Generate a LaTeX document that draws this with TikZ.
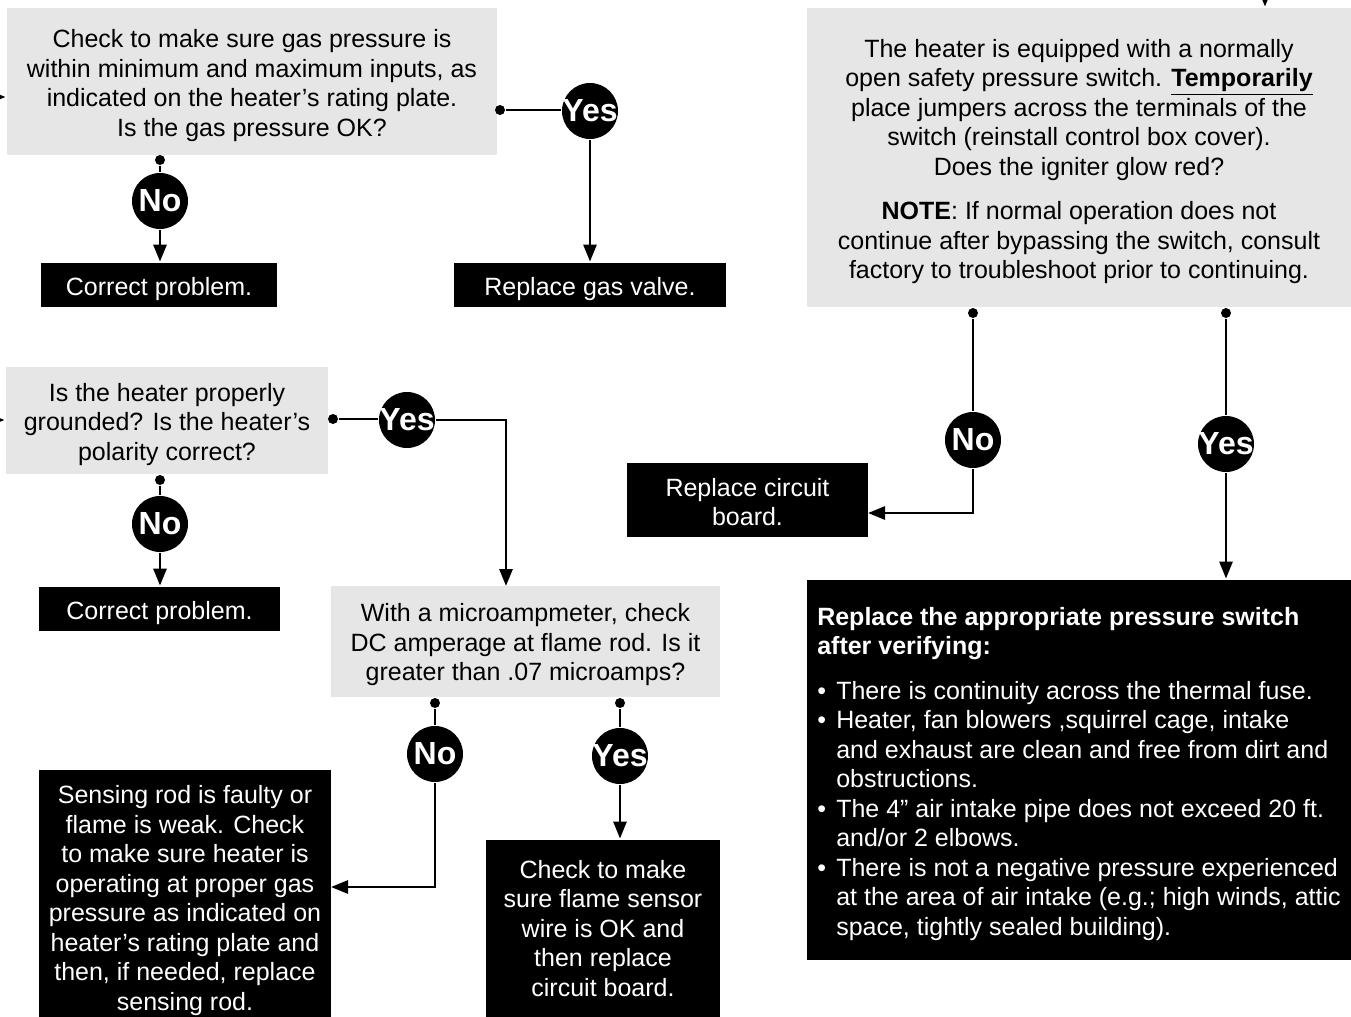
\documentclass[tikz,border=0pt]{standalone}
\usepackage{fontspec}
\setmainfont{Liberation Sans}
\usetikzlibrary{arrows.meta}
\definecolor{boxgray}{RGB}{230,230,231}
\begin{document}
\begin{tikzpicture}[x=0.5pt,y=-0.5pt,>={Triangle[length=8.5pt,width=6.5pt]},line width=1.4pt,
	font=\fontsize{12.5}{14.75}\selectfont,
	gbox/.style={fill=boxgray,align=center,inner sep=0pt,execute at begin node=\rule{0pt}{13pt}},
	bbox/.style={fill=black,text=white,align=center,inner sep=0pt,execute at begin node=\rule{0pt}{13pt}},
	yn/.style={circle,fill=black,text=white,inner sep=0pt,minimum size=28pt,font=\fontsize{16}{16}\bfseries\selectfont},
	dot/.style={circle,fill=black,inner sep=0pt,minimum size=5pt}]
	\useasboundingbox (0,0) rectangle (1351,1017);
	\node[gbox,minimum width=245pt,minimum height=73.5pt] (gas) at (252,81.5) {\rule{0pt}{13pt}Check to make sure gas pressure is\\within minimum and maximum inputs, as\\indicated on the heater’s rating plate.\\Is the gas pressure OK?};
	\node[bbox,minimum width=136pt,minimum height=22pt] (valve) at (590,285) {Replace gas valve.};
	\node[bbox,minimum width=118pt,minimum height=22pt] (fixa) at (159,285) {Correct problem.};
	\node[gbox,minimum width=161pt,minimum height=53.5pt] (ground) at (167,420.5) {\rule{0pt}{13pt}Is the heater properly\\grounded? Is the heater’s\\polarity correct?};
	\node[bbox,minimum width=120.5pt,minimum height=22pt] (fixb) at (159.5,609) {Correct problem.};
	\node[gbox,minimum width=194.5pt,minimum height=55.5pt] (micro) at (525.5,641.5) {\rule{0pt}{12.5pt}With a microampmeter, check\\DC amperage at flame rod. Is it\\greater than .07 microamps?};
	\node[bbox,minimum width=146pt,minimum height=123.5pt] (rod) at (185,893.5) {\rule{0pt}{16pt}Sensing rod is faulty or\\flame is weak. Check\\to make sure heater is\\operating at proper gas\\pressure as indicated on\\heater’s rating plate and\\then, if needed, replace\\sensing rod.};
	\node[bbox,minimum width=117pt,minimum height=88.5pt] (sensor) at (603,928.5) {Check to make\\sure flame sensor\\wire is OK and\\then replace\\circuit board.};
	\node[gbox,minimum width=272pt,minimum height=149.5pt] (switch) at (1079,157.5) {\rule{0pt}{13pt}The heater is equipped with a normally\\open safety pressure switch. \textbf{\underline{Temporarily}}\\place jumpers across the terminals of the\\switch (reinstall control box cover).\\Does the igniter glow red?\\[7.5pt]\textbf{NOTE}: If normal operation does not\\continue after bypassing the switch, consult\\factory to troubleshoot prior to continuing.};
	\node[bbox,minimum width=120.5pt,minimum height=37pt] (board) at (747.5,500) {\rule{0pt}{11pt}Replace circuit\\board.};
	\node[bbox,minimum width=272pt,minimum height=190pt,align=left] (replace) at (1079,770) {\rule{0pt}{13pt}\textbf{Replace the appropriate pressure switch}\\\textbf{after verifying:}\\[7.5pt]
		\makebox[9.5pt][l]{•}There is continuity across the thermal fuse.\\
		\makebox[9.5pt][l]{•}Heater, fan blowers ,squirrel cage, intake\\\hspace*{9.5pt}and exhaust are clean and free from dirt and\\\hspace*{9.5pt}obstructions.\\
		\makebox[9.5pt][l]{•}The 4” air intake pipe does not exceed 20 ft.\\\hspace*{9.5pt}and/or 2 elbows.\\
		\makebox[9.5pt][l]{•}There is not a negative pressure experienced\\\hspace*{9.5pt}at the area of air intake (e.g.; high winds, attic\\\hspace*{9.5pt}space, tightly sealed building).};
	\node[dot] (d1) at (500,110) {};
	\node[yn] (y1) at (590,111) {\makebox[0pt]{Yes}};
	\node[dot] (d2) at (160,160) {};
	\node[yn] (n1) at (160,201) {\makebox[0pt]{No}};
	\node[dot] (d3) at (333,419) {};
	\node[yn] (y2) at (407,420) {\makebox[0pt]{Yes}};
	\coordinate (c3) at (506,586);
	\node[dot] (d4) at (160,480) {};
	\node[yn] (n2) at (160,524) {\makebox[0pt]{No}};
	\node[dot] (d5) at (435,703) {};
	\node[yn] (n3) at (435,754) {\makebox[0pt]{No}};
	\coordinate (c5) at (331,887);
	\node[dot] (d6) at (620,703) {};
	\node[yn] (y3) at (620,756) {\makebox[0pt]{Yes}};
	\node[dot] (d7) at (973,313) {};
	\node[yn] (n4) at (973,440) {\makebox[0pt]{No}};
	\coordinate (c7) at (868,513);
	\node[dot] (d8) at (1226,313) {};
	\node[yn] (y4) at (1226,444) {\makebox[0pt]{Yes}};
	\coordinate (e1) at (0,97);
	\coordinate (e2) at (0,420);
	\coordinate (e3) at (1265,0);
	\draw (d1) -- (d1 -| y1.west);
	\draw[->] (y1) -- (valve);
	\draw (d2) -- (n1);
	\draw[->] (n1) -- (n1 |- fixa.north);
	\draw (d3) -- (d3 -| y2.west);
	\draw[->] (y2) -| (c3);
	\draw (d4) -- (n2);
	\draw[->] (n2) -- (n2 |- fixb.north);
	\draw (d5) -- (n3);
	\draw[->] (n3) |- (c5);
	\draw (d6) -- (y3);
	\draw[->] (y3) -- (y3 |- sensor.north);
	\draw (d7) -- (n4);
	\draw[->] (n4) |- (c7);
	\draw (d8) -- (y4);
	\draw[->] (y4) -- (y4 |- replace.north);
	\draw[->] (e1) -- (e1 -| gas.west);
	\draw[->] (e2) -- (e2 -| ground.west);
	\draw[->] (e3) -- (e3 |- switch.north);
\end{tikzpicture}
\end{document}
